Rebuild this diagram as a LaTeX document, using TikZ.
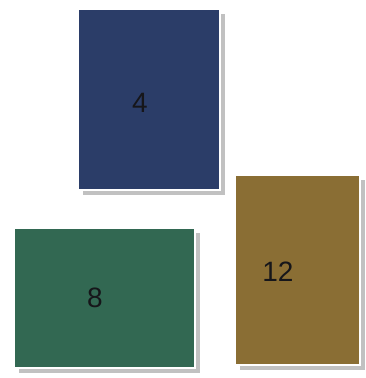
\documentclass[tikz,border=0pt]{standalone}
\usepackage{fontspec}
\setmainfont{Liberation Sans}
\usetikzlibrary{positioning,shadows}
\definecolor{tileblue}{RGB}{43,61,104}
\definecolor{tilegreen}{RGB}{50,104,82}
\definecolor{tilegold}{RGB}{138,110,52}
\definecolor{tiletext}{RGB}{22,22,26}

\begin{document}
\begin{tikzpicture}[x=0.75pt, y=-0.75pt, every node/.style={font=\fontsize{21}{24}\selectfont}]
  \tikzset{
    tile/.style={draw=white, line width=1.8pt, inner sep=0pt,
      drop shadow={shadow xshift=3.4pt, shadow yshift=-4pt, fill=black!40, opacity=0.6}},
    num/.style={text=tiletext, inner sep=0pt}
  }
  \useasboundingbox[fill=white] (0,0) rectangle (365,378);

  \node[tile, fill=tileblue,  minimum width=106.5pt, minimum height=135.75pt] (t4)  at (149,99.5) {};
  \node[tile, fill=tilegreen, minimum width=135.75pt, minimum height=105pt]   (t8)  at (104.5,298) {};
  \node[tile, fill=tilegold,  minimum width=93.75pt, minimum height=142.5pt]  (t12) at (297.5,270) {};

  \node[num] (n4)  at (140,103) {4};
  \node[num] (n8)  at (95,298)  {8};
  \node[num] (n12) at (278,272) {12};
\end{tikzpicture}
\end{document}
